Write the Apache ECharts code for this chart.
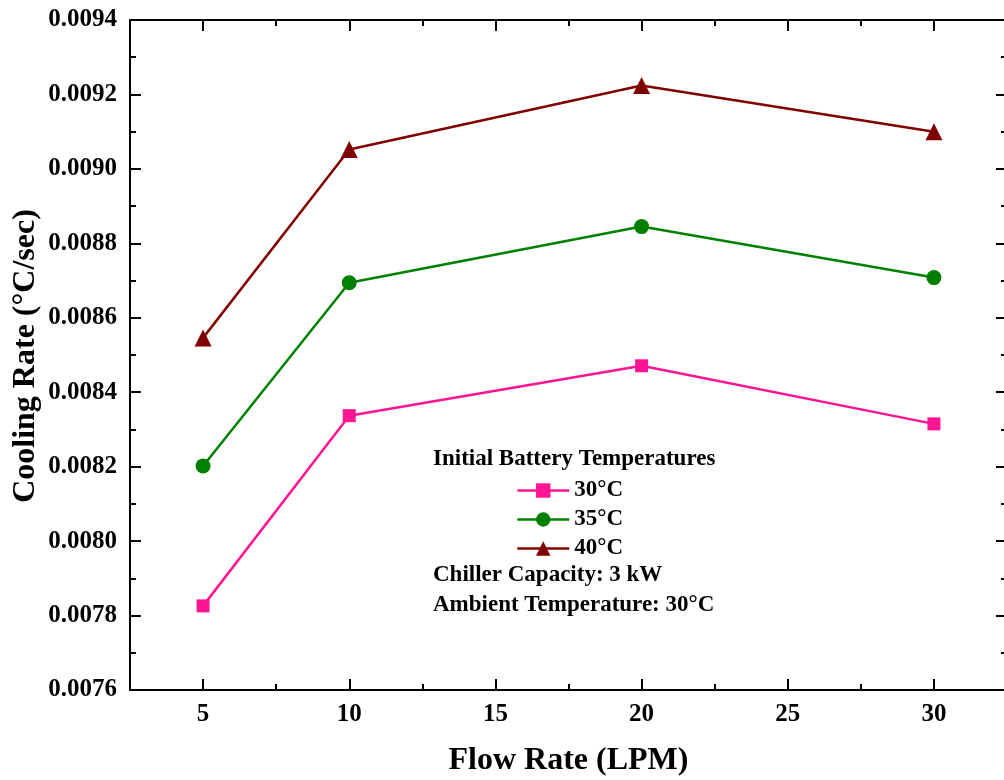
<!DOCTYPE html>
<html>
<head>
<meta charset="utf-8">
<script src="https://cdn.jsdelivr.net/npm/echarts@6/dist/echarts.min.js"></script>
<style>
  html, body { margin: 0; padding: 0; background: #fff; }
  #chart { width: 1004px; height: 780px; }
</style>
</head>
<body>
<div id="chart"></div>
<script>
var flowRates = [5, 10, 20, 30];
var rate30 = [0.007826, 0.008337, 0.008471, 0.008315];
var rate35 = [0.008202, 0.008694, 0.008845, 0.008708];
var rate40 = [0.008546, 0.009052, 0.009224, 0.009100];
var xMajor = [5, 10, 15, 20, 25, 30];
var xMinor = [7.5, 12.5, 17.5, 22.5, 27.5];

var chart = echarts.init(document.getElementById('chart'));
var font = "'Liberation Serif', 'Times New Roman', serif";

function pairs(ys) {
    return flowRates.map(function (x, i) { return [x, ys[i]]; });
}

function xAxisDef(pos, ticks, len, labels) {
    return {
        type: 'value',
        position: pos,
        min: 2.5,
        max: 32.5,
        splitLine: { show: false },
        axisLine: { show: true, lineStyle: { color: '#000', width: 2 } },
        axisTick: { show: true, inside: true, length: len, customValues: ticks,
            lineStyle: { color: '#000', width: 2 } },
        axisLabel: labels ? {
            show: true, customValues: ticks, margin: 12,
            color: '#000', fontFamily: font, fontWeight: 'bold', fontSize: 25
        } : { show: false }
    };
}

function yAxisDef(pos, labels) {
    return {
        type: 'value',
        position: pos,
        min: 0.0076,
        max: 0.0094,
        interval: 0.0002,
        splitLine: { show: false },
        axisLine: { show: true, lineStyle: { color: '#000', width: 2 } },
        axisTick: { show: true, inside: true, length: 11, lineStyle: { color: '#000', width: 2 } },
        minorTick: { show: true, splitNumber: 2, length: 6, lineStyle: { color: '#000', width: 2 } },
        minorSplitLine: { show: false },
        axisLabel: labels ? {
            show: true, margin: 13,
            color: '#000', fontFamily: font, fontWeight: 'bold', fontSize: 25,
            formatter: function (v) { return v.toFixed(4); }
        } : { show: false }
    };
}

var xBottom = xAxisDef('bottom', xMajor, 11, true);
xBottom.name = 'Flow Rate (LPM)';
xBottom.nameLocation = 'middle';
xBottom.nameGap = 55;
xBottom.nameTextStyle = { color: '#000', fontFamily: font, fontWeight: 'bold', fontSize: 32 };

function lineSeries(name, ys, color, symbol, size) {
    return {
        name: name,
        type: 'line',
        data: pairs(ys),
        symbol: symbol,
        symbolSize: size,
        showSymbol: true,
        lineStyle: { color: color, width: 2.5 },
        itemStyle: { color: color },
        z: 5
    };
}

var option = {
    animation: false,
    backgroundColor: '#fff',
    grid: { left: 130, top: 20, width: 877, height: 670, outerBoundsMode: 'none' },
    xAxis: [
        xBottom,
        xAxisDef('bottom', xMinor, 6, false),
        xAxisDef('top', xMajor, 11, false),
        xAxisDef('top', xMinor, 6, false)
    ],
    yAxis: [yAxisDef('left', true), yAxisDef('right', false)],
    legend: {
        orient: 'vertical',
        left: 511,
        top: 474,
        itemWidth: 52,
        itemHeight: 18,
        itemGap: 6,
        lineStyle: { width: 2.5 },
        textStyle: { color: '#000', fontFamily: font, fontWeight: 'bold', fontSize: 23, lineHeight: 22 },
        data: ['30°C', '35°C', '40°C']
    },
    graphic: [
        // y axis title, placed by hand (axis name gets pushed by the labels)
        { type: 'text', x: 26, y: 356, rotation: Math.PI / 2,
            style: { text: 'Cooling Rate (°C/sec)', fill: '#000', font: 'bold 32px ' + font,
                align: 'center', verticalAlign: 'middle' } },
        { type: 'text', left: 433, top: 448, style: { text: 'Initial Battery Temperatures',
            fill: '#000', font: 'bold 23px ' + font } },
        { type: 'text', left: 433, top: 564, style: { text: 'Chiller Capacity: 3 kW',
            fill: '#000', font: 'bold 23px ' + font } },
        { type: 'text', left: 433, top: 594, style: { text: 'Ambient Temperature: 30°C',
            fill: '#000', font: 'bold 23px ' + font } }
    ],
    series: [
        lineSeries('30°C', rate30, '#FF1493', 'rect', 13),
        lineSeries('35°C', rate35, '#008000', 'circle', 15),
        lineSeries('40°C', rate40, '#800000', 'triangle', 17)
    ]
};

chart.setOption(option);
</script>
</body>
</html>
